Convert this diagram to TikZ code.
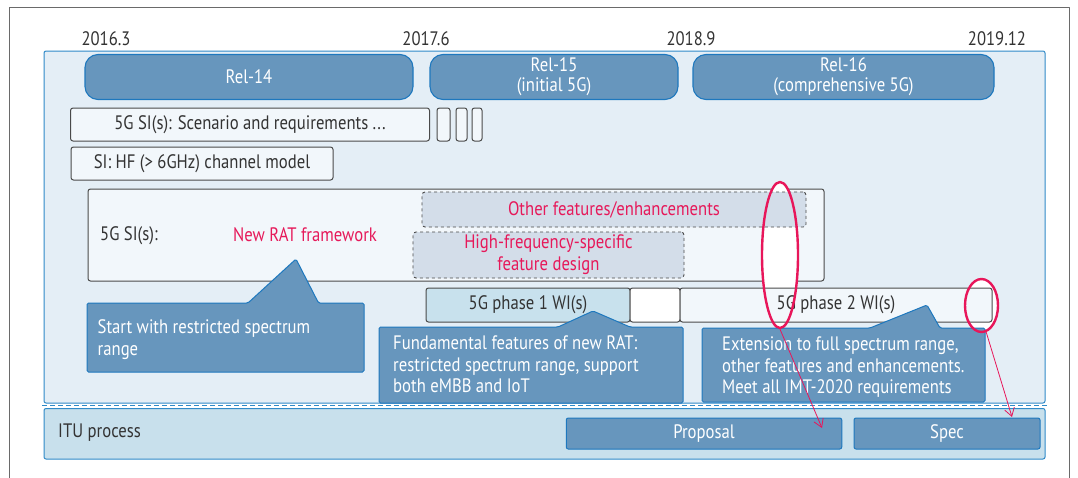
\documentclass[tikz,border=0pt]{standalone}
\usepackage{fontspec}
\setmainfont{PT Sans}[FakeStretch=0.855]
\usetikzlibrary{shapes.geometric,arrows.meta}
\definecolor{panelfill}{HTML}{E4EEF6}
\definecolor{panelline}{HTML}{2F8AC8}
\definecolor{itufill}{HTML}{C8E0EC}
\definecolor{calloutfill}{HTML}{6796BD}
\definecolor{calloutline}{HTML}{1E78BE}
\definecolor{boxfill}{HTML}{F2F7FB}
\definecolor{boxline}{HTML}{4A4A4A}
\definecolor{dashfill}{HTML}{D3DDE9}
\definecolor{phasefill}{HTML}{C8E1ED}
\definecolor{pinktext}{HTML}{E6195A}
\definecolor{redline}{HTML}{E8165A}
\definecolor{textgray}{HTML}{333333}
\definecolor{framegray}{HTML}{6A6A6A}

\begin{document}
\begin{tikzpicture}[line join=round,x=1pt,y=-1pt,
  every node/.style={font=\fontsize{19.5}{21.5}\selectfont,text=textgray,inner sep=0pt},
  relbox/.style={draw=calloutline,fill=calloutfill,line width=1.1pt,rounded corners=13pt,text=white,align=center,font=\fontsize{19.5}{20}\selectfont},
  sibox/.style={draw=boxline,fill=boxfill,line width=1pt,rounded corners=2.5pt},
  featbox/.style={draw=boxline,fill=dashfill,dashed,line width=0.9pt,rounded corners=3pt,text=pinktext,align=center,font=\fontsize{19.5}{22}\selectfont},
  bluebox/.style={draw=calloutline,fill=calloutfill,line width=1pt,rounded corners=2pt,text=white},
  callout/.style={draw=calloutline,fill=calloutfill,line width=1pt,rounded corners=1.5pt},
  callouttext/.style={text=white,align=left,anchor=north west},
  oval/.style={ellipse,draw=redline,line width=2.4pt,inner sep=0pt},
  redarrow/.style={draw=redline,line width=0.8pt,-{Straight Barb[length=8pt,width=10pt]}}]
\useasboundingbox (0,0) rectangle (1078,477);
\fill[white] (0,0) rectangle (1078,477);
\draw[framegray,line width=0.8pt] (9,478) -- (9,7.5) -- (1069,7.5) -- (1069,478);
% panels
\draw[panelline,fill=panelfill,line width=1pt,rounded corners=2pt] (44,51) rectangle (1045,403);
\draw[panelline,fill=itufill,line width=1pt,rounded corners=2pt] (44,408.5) rectangle (1045,459);
\draw[panelline,line width=1pt,dash pattern=on 5pt off 3pt] (42,405.8) -- (1048,405.8);
% years
\node (y2016) at (106,39) {2016.3};
\node (y2017) at (426,39) {2017.6};
\node (y2018) at (691,39) {2018.9};
\node (y2019) at (997,39) {2019.12};
% releases
\node[relbox,minimum width=328,minimum height=45] (rel14) at (249,77) {Rel-14};
\node[relbox,minimum width=248,minimum height=45] (rel15) at (554,77) {Rel-15\\(initial 5G)};
\node[relbox,minimum width=301,minimum height=45] (rel16) at (843.5,77) {Rel-16\\(comprehensive 5G)};
% study items
\node[sibox,minimum width=359,minimum height=33] (scen) at (250,124.5) {5G SI(s): Scenario and requirements ...};
\node[sibox,minimum width=13,minimum height=33] (sa) at (443.5,124.5) {};
\node[sibox,minimum width=11,minimum height=33] (sb) at (461.5,124.5) {};
\node[sibox,minimum width=10,minimum height=33] (sc) at (477,124.5) {};
\node[sibox,minimum width=262,minimum height=33] (hf) at (202,163.5) {SI: HF (> 6GHz) channel model};
\node[sibox,minimum width=736,minimum height=92] (nrsi) at (456,235) {};
\node[anchor=west] (silabel) at (100,236) {5G SI(s):};
\node[text=pinktext] (ratfw) at (305,235) {New RAT framework};
\fill[white] (780,255) ellipse [x radius=18,y radius=73];
\fill[white] (981.5,305.5) ellipse [x radius=16.5,y radius=26.5];
\node[featbox,minimum width=384,minimum height=35] (other) at (614,209.5) {Other features/enhancements};
\node[featbox,minimum width=271,minimum height=46] (hfspec) at (548.5,255) {High-frequency-specific\\feature design};
% work items
\node[sibox,fill=phasefill,minimum width=204,minimum height=34] (ph1) at (528,305) {5G phase 1 WI(s)};
\node[sibox,fill=white,minimum width=50,minimum height=34] (gap) at (655,305) {};
\node[sibox,fill=boxfill,minimum width=312,minimum height=34] (ph2) at (836,305) {5G phase 2 WI(s)};
% callouts
\draw[callout] (87,303) -- (248,303) -- (296,259) -- (318.5,303) -- (364,303) -- (364,372) -- (87,372) -- cycle;
\node[callouttext] (c1) at (97.5,319.5) {Start with restricted spectrum\\range};
\draw[callout] (379,327) -- (558,327) -- (593,311) -- (630,327) -- (683,327) -- (683,403) -- (379,403) -- cycle;
\node[callouttext] (c2) at (393,335.5) {Fundamental features of new RAT:\\restricted spectrum range, support\\both eMBB and IoT};
\draw[callout] (702,328) -- (870,328) -- (927,305) -- (940,328) -- (985,328) -- (985,402) -- (702,402) -- cycle;
\node[callouttext] (c3) at (722,336.5) {Extension to full spectrum range,\\other features and enhancements.\\Meet all IMT-2020 requirements};
% ITU
\node[anchor=west] (itu) at (58,433) {ITU process};
\node[bluebox,minimum width=275.5,minimum height=31] (prop) at (704,433.5) {Proposal};
\node[bluebox,minimum width=186,minimum height=31] (spec) at (947,433.5) {Spec};
% marks
\node[oval,minimum width=36,minimum height=146] (oval1) at (780,255) {};
\node[oval,minimum width=33,minimum height=53] (oval2) at (981.5,305.5) {};
\coordinate (t1) at (822,428);
\coordinate (t2) at (1012,417);
\draw[redarrow] (oval1.south) -- (t1);
\draw[redarrow] (oval2.-80) -- (t2);
\end{tikzpicture}
\end{document}
